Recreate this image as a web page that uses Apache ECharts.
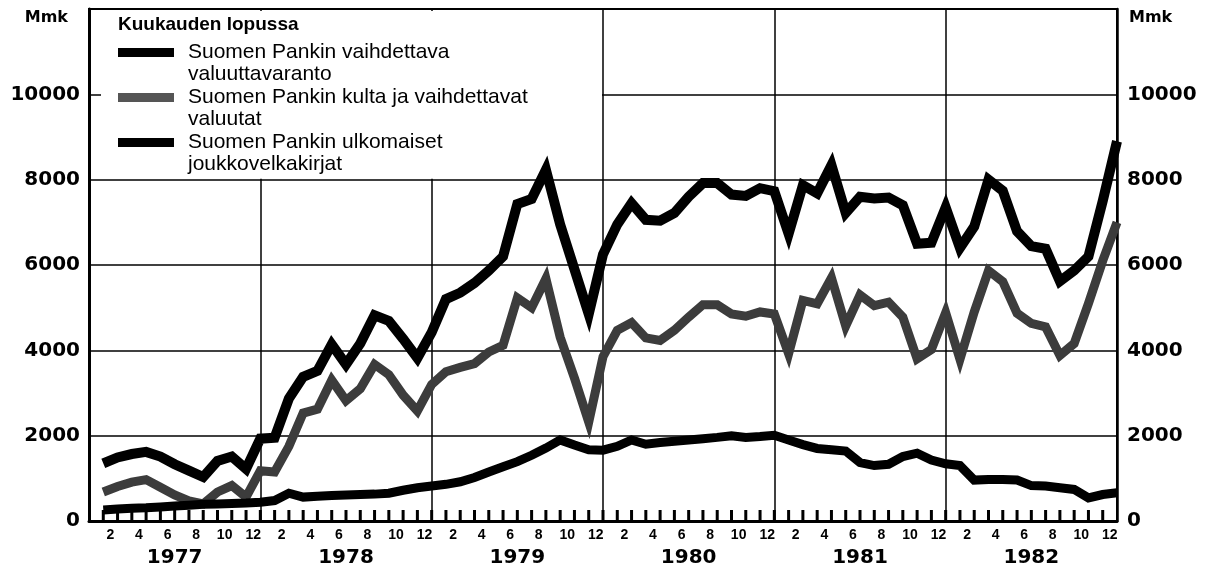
<!DOCTYPE html>
<html>
<head>
<meta charset="utf-8">
<script src="https://cdn.jsdelivr.net/npm/echarts@6/dist/echarts.min.js"></script>
<style>
html,body{margin:0;padding:0;background:#fff;}
#c{width:1208px;height:569px;}
</style>
</head>
<body>
<div id="c"></div>
<script>
// ---- data (month-end values, Mmk) ----
const years = ['1977', '1978', '1979', '1980', '1981', '1982'];
const monthTicks = ['', '2', '', '4', '', '6', '', '8', '', '10', '', '12'];

const reserves = [
  1350, 1490, 1570, 1620, 1510, 1330, 1180, 1030, 1410, 1510, 1220, 1930,
  1950, 2870, 3380, 3520, 4140, 3670, 4160, 4820, 4690, 4270, 3820, 4420,
  5200, 5350, 5580, 5870, 6200, 7430, 7550, 8230, 6950, 5900, 4850, 6250,
  6950, 7450, 7060, 7040, 7220, 7600, 7920, 7920, 7650, 7620, 7800, 7730,
  6730, 7870, 7680, 8340, 7220, 7600, 7560, 7580, 7400, 6500, 6520, 7350,
  6400, 6900, 8000, 7740, 6790, 6440, 6380, 5620, 5870, 6200, 7500, 8900
];
const goldCurrency = [
  680, 810, 910, 970, 790, 610, 470, 400, 680, 830, 560, 1180,
  1150, 1750, 2530, 2620, 3300, 2820, 3100, 3670, 3430, 2950, 2580, 3200,
  3500, 3600, 3690, 3960, 4120, 5230, 5000, 5680, 4310, 3350, 2320, 3850,
  4470, 4650, 4290, 4230, 4470, 4780, 5070, 5070, 4850, 4800, 4900, 4850,
  3920, 5170, 5090, 5700, 4570, 5300, 5050, 5130, 4780, 3800, 4020, 4880,
  3790, 4900, 5870, 5610, 4870, 4630, 4550, 3880, 4160, 5100, 6100, 7000
];
const bonds = [
  260, 280, 300, 310, 330, 350, 370, 390, 400, 410, 420, 440,
  480, 650, 560, 580, 600, 610, 620, 630, 650, 720, 780, 820,
  860, 920, 1020, 1150, 1270, 1390, 1540, 1710, 1900, 1780, 1670, 1660,
  1750, 1900, 1800, 1840, 1870, 1900, 1930, 1960, 2000, 1960, 1980, 2010,
  1900, 1790, 1700, 1670, 1640, 1370, 1300, 1330, 1510, 1590, 1430, 1340,
  1300, 960, 975, 975, 960, 830, 820, 780, 740, 540, 620, 660
];
const seriesNames = [
  'Suomen Pankin vaihdettava\nvaluuttavaranto',
  'Suomen Pankin kulta ja vaihdettavat\nvaluutat',
  'Suomen Pankin ulkomaiset\njoukkovelkakirjat'
];
const legendTitle = 'Kuukauden lopussa';
const unitLabel = 'Mmk';

// ---- build ----
const monthCats = [];
years.forEach(function (y) { monthTicks.forEach(function (t) { monthCats.push(t); }); });
function pts(arr) { return arr.map(function (v, i) { return [i + 1, v]; }); }

const numFont = '"DejaVu Sans", sans-serif';
const txtFont = '"Liberation Sans", Arial, sans-serif';

const chart = echarts.init(document.getElementById('c'), null, {renderer: 'canvas'});
const option = {
  animation: false,
  backgroundColor: '#fff',
  grid: {left: 89, right: 91, top: 9, bottom: 48, show: true, borderColor: '#000', borderWidth: 2},
  xAxis: [
    {type: 'value', min: 0, max: 72, show: false, position: 'bottom'},
    {
      type: 'category', data: monthCats, position: 'bottom', boundaryGap: true,
      axisLine: {show: true, lineStyle: {color: '#000', width: 3}},
      axisTick: {show: false},
      axisLabel: {interval: 0, margin: 7, color: '#000', fontFamily: txtFont, fontWeight: 'bold', fontSize: 14},
      splitLine: {show: false}
    },
    {
      type: 'category', data: years, position: 'bottom', boundaryGap: true,
      axisLine: {show: false}, axisTick: {show: false},
      axisLabel: {interval: 0, margin: 27, color: '#000', fontFamily: numFont, fontWeight: 'bold', fontSize: 20},
      splitLine: {show: true, interval: 0, lineStyle: {color: '#000', width: 1.5}}
    }
  ],
  yAxis: [
    {
      type: 'value', min: 0, max: 12000, interval: 2000, position: 'left',
      axisLine: {show: true, lineStyle: {color: '#000', width: 3}},
      axisTick: {show: false},
      axisLabel: {margin: 9, color: '#000', fontFamily: numFont, fontWeight: 'bold', fontSize: 20,
        formatter: function (v) { return v >= 12000 ? '' : String(v); }},
      splitLine: {show: true, lineStyle: {color: '#000', width: 1.5}}
    },
    {
      type: 'value', min: 0, max: 12000, interval: 2000, position: 'right',
      axisLine: {show: true, lineStyle: {color: '#000', width: 2.5}},
      axisTick: {show: false},
      axisLabel: {margin: 10, color: '#000', fontFamily: numFont, fontWeight: 'bold', fontSize: 20,
        formatter: function (v) { return v >= 12000 ? '' : String(v); }},
      splitLine: {show: false}
    }
  ],
  series: [
    {name: seriesNames[0], type: 'line', xAxisIndex: 0, yAxisIndex: 0, data: pts(reserves), showSymbol: false, symbol: 'none', z: 4,
      lineStyle: {color: '#000', width: 10, join: 'miter', cap: 'butt'}},
    {name: seriesNames[1], type: 'line', xAxisIndex: 0, yAxisIndex: 0, data: pts(goldCurrency), showSymbol: false, symbol: 'none', z: 3,
      lineStyle: {color: '#3c3c3c', width: 9, join: 'miter', cap: 'butt'}},
    {name: seriesNames[2], type: 'line', xAxisIndex: 0, yAxisIndex: 0, data: pts(bonds), showSymbol: false, symbol: 'none', z: 4,
      lineStyle: {color: '#000', width: 9, join: 'miter', cap: 'butt'}}
  ]
};
chart.setOption(option);

// legend box, month ticks & unit labels, positioned from the chart's own coordinate system
const finder = {seriesIndex: 0};
const pTop = chart.convertToPixel(finder, [0, 12000]);
const pBox = chart.convertToPixel(finder, [36, 8000]);
const pRight = chart.convertToPixel(finder, [72, 12000]);
const x0 = pTop[0], y0 = pTop[1];
const els = [];
for (let i = 1; i < monthCats.length; i++) {
  const p = chart.convertToPixel(finder, [i, 0]);
  els.push({type: 'rect', z: 2, silent: true, shape: {x: p[0] - 1.5, y: p[1] - 11, width: 3, height: 11}, style: {fill: '#000'}});
}
els.push({type: 'rect', z: 1, silent: true, shape: {x: x0 + 12, y: y0 + 2, width: pBox[0] - x0 - 13, height: pBox[1] - y0 - 3}, style: {fill: '#fff'}});
els.push({type: 'text', z: 5, x: x0 + 29, y: y0 + 16, style: {text: legendTitle, font: 'bold 19px ' + txtFont, fill: '#000', textVerticalAlign: 'middle'}});
const iconColors = ['#000', '#555', '#000'];
const rowY = [43, 88, 133];
for (let i = 0; i < 3; i++) {
  els.push({type: 'rect', z: 5, shape: {x: x0 + 29, y: y0 + rowY[i] - 4, width: 56, height: 9}, style: {fill: iconColors[i]}});
  els.push({type: 'text', z: 5, x: x0 + 99, y: y0 + rowY[i] - 11, style: {text: seriesNames[i], font: '21px ' + txtFont, lineHeight: 22, fill: '#000', textVerticalAlign: 'top'}});
}
els.push({type: 'text', z: 5, x: x0 - 21, y: y0 + 9, style: {text: unitLabel, font: 'bold 16px ' + numFont, fill: '#000', textAlign: 'right', textVerticalAlign: 'middle'}});
els.push({type: 'text', z: 5, x: pRight[0] + 12, y: y0 + 9, style: {text: unitLabel, font: 'bold 16px ' + numFont, fill: '#000', textAlign: 'left', textVerticalAlign: 'middle'}});
chart.setOption({graphic: {elements: els}});
</script>
</body>
</html>
